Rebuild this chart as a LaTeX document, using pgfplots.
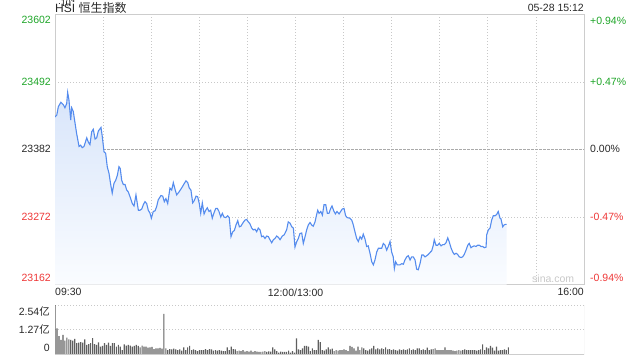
\documentclass[border=0pt]{standalone}
\usepackage{fontspec}
\setmainfont{Liberation Sans}
\newfontfamily\cjk{Noto Sans CJK SC}
\usepackage{pgfplots}
\pgfplotsset{compat=1.18}
\usepackage{pgfplotstable}
\definecolor{upgreen}{RGB}{30,165,40}
\definecolor{downred}{RGB}{238,55,55}
\definecolor{txt}{RGB}{40,40,40}
\definecolor{framec}{RGB}{205,205,205}
\definecolor{gridc}{RGB}{200,200,200}
\definecolor{zeroc}{RGB}{170,170,170}
\definecolor{linec}{RGB}{85,140,238}
\definecolor{filltop}{RGB}{216,229,250}
\definecolor{fillbot}{RGB}{250,252,255}
\definecolor{volc}{RGB}{95,95,95}
\definecolor{wm}{RGB}{200,200,200}

\pgfplotstableread[row sep=\\]{
m p\\
0 23435\\1.1 23438\\2.1 23452\\3.7 23459\\5.2 23455\\6.2 23450\\7.3 23457\\7.9 23475\\8.7 23463\\9.8 23430\\
10.4 23450\\11.4 23444\\12.5 23425\\13.5 23408\\15.0 23387\\16.0 23389\\17.0 23385\\18.1 23387\\19.8 23401\\20.8 23394\\
21.8 23390\\22.9 23411\\23.9 23415\\25.0 23399\\26.0 23401\\27.0 23412\\28.7 23418\\29.5 23403\\30.6 23378\\31.6 23376\\
32.6 23354\\33.7 23343\\34.8 23324\\35.7 23311\\36.8 23327\\37.9 23332\\38.9 23340\\39.9 23354\\40.7 23351\\41.6 23332\\
42.6 23325\\43.7 23325\\44.7 23316\\45.7 23313\\46.8 23305\\48.2 23294\\49.3 23290\\50.5 23308\\52.0 23283\\53.0 23283\\
54.1 23285\\55.1 23292\\56.1 23297\\57.2 23294\\58.2 23283\\59.3 23278\\60.1 23270\\61.3 23281\\62.4 23282\\63.4 23289\\
64.4 23300\\66.1 23307\\67.2 23306\\68.2 23297\\69.2 23302\\70.3 23294\\71.7 23319\\72.8 23316\\73.8 23328\\74.9 23317\\
75.9 23308\\77.4 23313\\78.4 23317\\79.4 23321\\80.5 23326\\81.7 23331\\82.8 23328\\83.8 23319\\84.8 23316\\85.9 23295\\
86.9 23299\\88.0 23306\\89.0 23305\\90.0 23294\\90.9 23278\\91.9 23295\\93.0 23277\\94.0 23283\\95.0 23287\\96.1 23281\\
97.1 23283\\98.1 23270\\99.2 23279\\100.3 23286\\101.3 23286\\102.3 23281\\103.4 23272\\104.4 23278\\105.4 23272\\106.5 23271\\
107.7 23274\\108.7 23271\\109.8 23240\\110.9 23248\\111.9 23250\\112.9 23259\\114.0 23266\\115.0 23256\\116.0 23257\\117.1 23262\\
118.5 23267\\119.6 23268\\120.6 23264\\121.6 23261\\122.7 23254\\123.7 23251\\124.8 23252\\125.8 23248\\126.8 23254\\127.9 23251\\
128.9 23240\\129.9 23241\\131.0 23237\\132.1 23241\\133.1 23240\\134.1 23235\\135.2 23230\\136.2 23235\\137.2 23237\\138.3 23241\\
139.3 23239\\140.4 23235\\141.8 23241\\143.0 23243\\144.5 23251\\145.5 23264\\146.6 23262\\147.7 23256\\148.7 23254\\149.7 23223\\
150.8 23232\\151.8 23237\\152.8 23245\\153.9 23246\\154.9 23229\\156.0 23240\\157.0 23251\\158.0 23259\\159.1 23263\\160.1 23259\\
161.1 23257\\162.2 23264\\163.3 23277\\163.9 23283\\164.7 23278\\165.8 23281\\166.8 23275\\167.8 23292\\168.9 23292\\169.9 23278\\
170.9 23278\\172.0 23286\\172.8 23290\\173.9 23282\\174.9 23277\\175.9 23281\\177.2 23277\\178.2 23281\\179.2 23285\\180.3 23286\\
181.3 23274\\182.3 23271\\184.0 23270\\185.1 23267\\186.1 23259\\187.1 23248\\188.2 23237\\189.2 23232\\190.3 23240\\191.3 23236\\
192.3 23244\\193.4 23236\\194.4 23224\\195.4 23225\\196.5 23213\\197.6 23199\\198.6 23194\\199.6 23202\\200.7 23215\\201.7 23221\\
202.7 23221\\203.8 23221\\204.8 23229\\205.9 23226\\206.9 23218\\207.9 23224\\209.0 23232\\210.0 23215\\211.0 23207\\211.7 23188\\
212.5 23199\\213.5 23194\\215.2 23194\\216.3 23196\\217.3 23195\\218.3 23202\\219.4 23207\\220.4 23209\\221.5 23202\\222.5 23207\\
223.5 23207\\224.6 23202\\225.6 23187\\226.6 23186\\227.7 23196\\228.8 23210\\229.8 23210\\230.8 23207\\231.9 23209\\232.9 23211\\
233.9 23214\\235.0 23217\\236.0 23226\\236.6 23235\\237.7 23226\\238.7 23226\\239.7 23229\\240.8 23225\\241.9 23227\\242.9 23227\\
243.9 23230\\245.0 23238\\246.0 23231\\247.0 23222\\248.1 23215\\249.1 23211\\250.2 23213\\251.2 23211\\252.2 23207\\253.3 23206\\
254.3 23207\\255.3 23211\\256.4 23218\\257.5 23226\\258.4 23229\\259.5 23222\\260.6 23224\\261.6 23225\\262.6 23224\\263.7 23226\\
264.7 23226\\265.7 23224\\266.8 23224\\267.8 23222\\268.9 23223\\269.3 23243\\270.3 23251\\271.4 23254\\272.4 23267\\273.4 23274\\
274.5 23274\\275.5 23276\\276.5 23281\\277.6 23270\\278.2 23269\\279.3 23256\\280.1 23259\\280.9 23260\\281.8 23260\\
}\price

\pgfplotstableread[header=false,row sep=\\]{
2.54\\1.34\\0.94\\0.74\\1.00\\0.70\\0.86\\0.77\\0.74\\0.70\\
0.79\\0.57\\0.60\\0.63\\0.60\\0.77\\0.48\\0.53\\0.57\\0.84\\
0.53\\0.48\\0.62\\0.39\\0.43\\0.57\\0.48\\0.60\\0.43\\0.57\\
0.57\\0.39\\0.48\\0.39\\0.22\\0.51\\0.45\\0.48\\0.45\\0.39\\
0.43\\0.48\\0.43\\0.36\\0.45\\0.39\\0.39\\0.34\\0.36\\0.38\\
0.27\\0.31\\0.31\\0.33\\0.29\\2.08\\0.31\\0.22\\0.27\\0.26\\
0.29\\0.26\\0.22\\0.26\\0.19\\0.36\\0.22\\0.36\\0.43\\0.22\\
0.26\\0.22\\0.17\\0.22\\0.22\\0.22\\
0.27\\0.22\\0.27\\0.26\\0.19\\0.22\\0.19\\0.22\\0.19\\0.17\\
0.17\\0.36\\0.22\\0.39\\0.27\\0.26\\0.17\\0.19\\0.17\\0.22\\
0.14\\0.17\\0.14\\0.19\\0.12\\0.17\\0.14\\0.12\\0.12\\0.14\\
0.17\\0.12\\0.15\\0.14\\0.36\\0.26\\0.17\\0.09\\0.14\\0.12\\
0.12\\0.12\\0.19\\0.09\\0.17\\0.09\\0.82\\0.26\\0.22\\0.31\\
0.43\\0.43\\0.39\\0.17\\0.31\\0.22\\0.22\\0.74\\0.63\\0.22\\
0.19\\0.26\\0.36\\0.26\\0.29\\0.17\\0.22\\0.19\\0.22\\0.22\\
0.26\\0.22\\0.17\\0.43\\0.38\\0.31\\
0.19\\0.39\\0.22\\0.36\\0.31\\0.22\\0.19\\0.26\\0.31\\0.43\\
0.26\\0.31\\0.26\\0.31\\0.27\\0.36\\0.26\\0.27\\0.22\\0.26\\
0.22\\0.19\\0.26\\0.22\\0.26\\0.22\\0.26\\0.31\\0.22\\0.26\\
0.22\\0.31\\0.31\\0.22\\0.26\\0.22\\0.34\\0.22\\0.26\\0.27\\
0.31\\0.22\\0.22\\0.22\\0.22\\0.36\\0.22\\0.22\\0.22\\0.19\\
0.17\\0.19\\0.22\\0.19\\0.22\\0.26\\0.22\\0.22\\0.22\\0.22\\
0.22\\0.19\\0.22\\0.26\\0.51\\0.22\\0.36\\0.31\\0.43\\0.34\\
0.19\\0.39\\0.19\\0.22\\0.22\\0.26\\0.22\\0.36\\
}\vol

\begin{document}
\begin{tikzpicture}[lbl/.style={inner sep=0pt, font=\fontsize{10.5pt}{12pt}\selectfont}]
\useasboundingbox (0,0) rectangle (640pt,360pt);

\begin{axis}[
  at={(55pt,75.5pt)}, anchor=south west,
  scale only axis, width=529pt, height=270pt,
  xmin=0, xmax=330, ymin=23162, ymax=23602,
  xtick={0,30,...,330}, ytick={23162,23272,23492,23602},
  xticklabels={}, yticklabels={},
  extra y ticks={23382}, extra y tick labels={},
  extra y tick style={grid=major, major grid style={zeroc, line width=0.7pt, dash pattern=on 2.5pt off 1.5pt}},
  major tick length=0pt,
  grid=major,
  major grid style={gridc, line width=0.7pt, dash pattern=on 0.9pt off 2.1pt},
  axis line style={framec, line width=0.9pt},
]
\addplot[draw=none, top color=filltop, bottom color=fillbot, forget plot]
  table[x=m, y=p]{\price} -- (axis cs:281.8,23162) -- (axis cs:0,23162) -- cycle;
\addplot[linec, line width=1.1pt, mark=none] table[x=m, y=p]{\price};
\end{axis}

\begin{axis}[
  at={(55pt,5.7pt)}, anchor=south west,
  scale only axis, width=529pt, height=49.3pt,
  xmin=0, xmax=330, ymin=0, ymax=2.54,
  xtick=\empty, ytick={1.27,2.54}, yticklabels={},
  major tick length=0pt,
  ymajorgrids,
  major grid style={gridc, line width=0.7pt, dash pattern=on 0.9pt off 2.1pt},
  axis line style={draw=none},
  ybar, bar width=1.2pt,
]
\addplot[fill=volc, draw=none, bar shift=0pt] table[x expr=\coordindex*1.235, y index=0]{\vol};
\draw[framec, line width=0.9pt] (rel axis cs:0,0) -- (rel axis cs:1,0) -- (rel axis cs:1,1);
\end{axis}

% titles
\node[lbl, anchor=base west, text=txt, font=\fontsize{12pt}{14pt}\selectfont] at (55pt,348pt) {HSI {\cjk 恒生指数}};
\node[lbl, anchor=east, text=txt] at (584pt,352.3pt) {05-28 15:12};

% left price labels
\node[lbl, anchor=east, text=upgreen] at (51pt,340pt) {23602};
\node[lbl, anchor=east, text=upgreen] at (51pt,278pt) {23492};
\node[lbl, anchor=east, text=txt] at (51pt,211pt) {23382};
\node[lbl, anchor=east, text=downred] at (51pt,143pt) {23272};
\node[lbl, anchor=east, text=downred] at (51pt,82.3pt) {23162};

% right percent labels
\node[lbl, anchor=west, text=upgreen] at (590pt,339.5pt) {+0.94\%};
\node[lbl, anchor=west, text=upgreen] at (590pt,278pt) {+0.47\%};
\node[lbl, anchor=west, text=txt] at (590pt,211pt) {0.00\%};
\node[lbl, anchor=west, text=downred] at (590pt,143pt) {-0.47\%};
\node[lbl, anchor=west, text=downred] at (590pt,82.3pt) {-0.94\%};

% time labels
\node[lbl, anchor=west, text=txt] at (55pt,67.7pt) {09:30};
\node[lbl, anchor=center, text=txt] at (295.6pt,67.7pt) {12:00/13:00};
\node[lbl, anchor=east, text=txt] at (584pt,67.7pt) {16:00};

% watermark
\node[lbl, anchor=west, text=wm] at (532pt,81pt) {sina.com};

% volume labels
\node[lbl, anchor=east, text=txt] at (50pt,48.3pt) {2.54{\cjk 亿}};
\node[lbl, anchor=east, text=txt] at (50pt,30pt) {1.27{\cjk 亿}};
\node[lbl, anchor=east, text=txt] at (50pt,12pt) {0};
\end{tikzpicture}
\end{document}
